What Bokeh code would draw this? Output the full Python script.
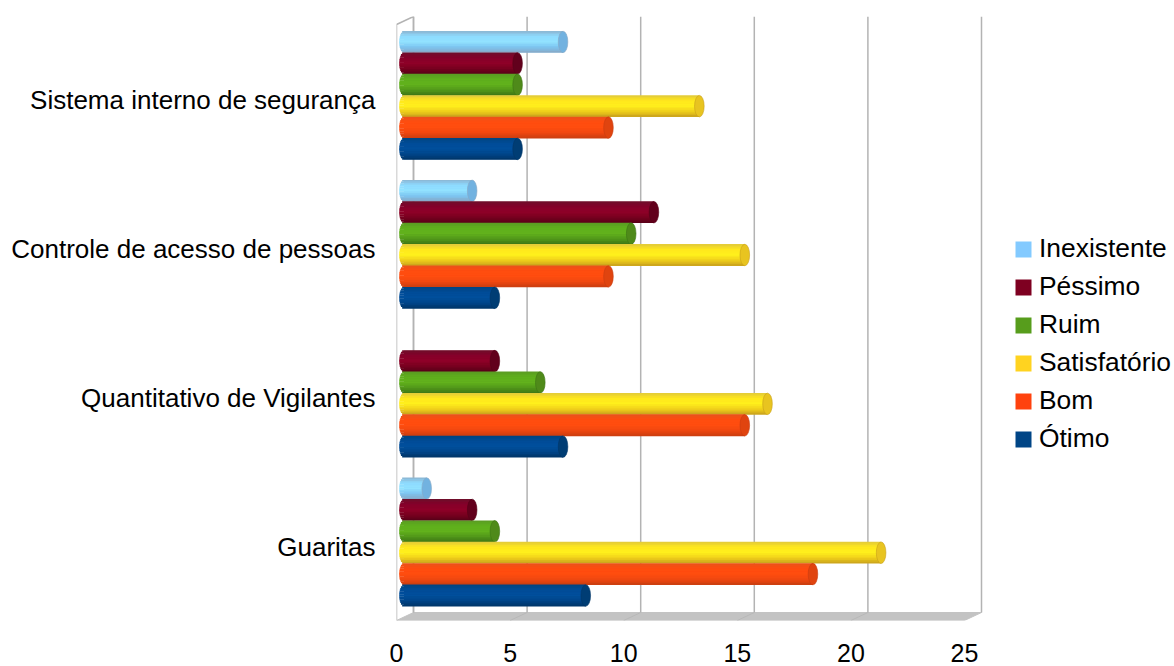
import math
from bokeh.embed import file_html
from bokeh.resources import INLINE
from bokeh.plotting import figure
from bokeh.models import ColumnDataSource, Range1d, FixedTicker, Legend, LegendItem

categories = ["Guaritas", "Quantitativo de Vigilantes", "Controle de acesso de pessoas", "Sistema interno de segurança"]
series_names = ["Ótimo", "Bom", "Satisfatório", "Ruim", "Péssimo", "Inexistente"]
otimo = [8, 7, 4, 5]
bom = [18, 15, 9, 9]
satisfatorio = [21, 16, 15, 13]
ruim = [4, 6, 10, 5]
pessimo = [3, 4, 11, 5]
inexistente = [1, 0, 3, 7]
x_ticks = [0, 5, 10, 15, 20, 25]

series_values = [otimo, bom, satisfatorio, ruim, pessimo, inexistente]
legend_colors = ["#004586", "#ff420e", "#ffd320", "#579d1c", "#7e0021", "#83caff"]
cap_colors = ["#003d74", "#e0440f", "#e8c420", "#4f8a1a", "#62001c", "#72b2e0"]
shades = [
    ["#00447f", "#004c98", "#004f9c", "#00458a", "#003566"],
    ["#e8521c", "#ff4d0f", "#ff4d0f", "#f04810", "#c83d10"],
    ["#e0c83c", "#ffe81c", "#fff01c", "#f0d01a", "#c8a01c"],
    ["#5a9a24", "#5fb01c", "#62b21c", "#52981a", "#3d7414"],
    ["#6c0e2a", "#85002a", "#8f0028", "#78001f", "#560018"],
    ["#8cb4d0", "#8edcff", "#92e2ff", "#7cc4f0", "#88a8c4"],
]

FONT = "Liberation Sans"
PX_PER_UNIT = 22.72
PX_PER_CAT = 148.85
FRAME_L, FRAME_R, FRAME_T, FRAME_B = 396, 1174, 16, 620
W, H = 1174, 666
Y_START = -(FRAME_B - 546.5) / PX_PER_CAT

p = figure(width=W, height=H, output_backend="svg", toolbar_location=None,
           x_range=Range1d(0, (FRAME_R - FRAME_L) / PX_PER_UNIT),
           y_range=Range1d(Y_START, Y_START + (FRAME_B - FRAME_T) / PX_PER_CAT),
           min_border_left=FRAME_L, min_border_right=W - FRAME_R,
           min_border_top=FRAME_T, min_border_bottom=H - FRAME_B)
p.outline_line_color = None
p.grid.visible = False

ax = p.xaxis[0]
ax.ticker = FixedTicker(ticks=x_ticks)
ax.axis_line_color = None
ax.major_tick_line_color = None
ax.minor_tick_line_color = None
ax.major_label_standoff = 17
ax.major_label_text_font = FONT
ax.major_label_text_font_size = "25px"
ax.major_label_text_color = "#000000"

ay = p.yaxis[0]
ay.ticker = FixedTicker(ticks=list(range(len(categories))))
ay.major_label_overrides = {i: c for i, c in enumerate(categories)}
ay.axis_line_color = None
ay.major_tick_line_color = None
ay.minor_tick_line_color = None
ay.major_label_standoff = 15
ay.major_label_text_font = FONT
ay.major_label_text_font_size = "26px"
ay.major_label_text_color = "#000000"

# 3-D box furniture
dx, dy = 17 / PX_PER_UNIT, 8 / PX_PER_CAT
y1 = p.y_range.end
floor_y = p.y_range.start
left, right = x_ticks[0], x_ticks[-1]
GRID = "#b3b3b3"
p.patch([left, left + dx, right + dx, right], [floor_y, floor_y + dy, floor_y + dy, floor_y],
        fill_color="#c3c3c3", line_color="#c3c3c3", line_width=1)
p.segment([t + dx for t in x_ticks], [floor_y + dy] * 6, [t + dx for t in x_ticks], [y1] * 6,
          line_color=GRID, line_width=1.5)
p.segment([t for t in x_ticks[1:-1]], [floor_y] * 4, [t + dx for t in x_ticks[1:-1]], [floor_y + dy] * 4,
          line_color="#b8b8b8", line_width=1)
p.line([left, left, left + dx, left + dx], [floor_y, y1 - dy, y1, floor_y + dy], line_color=GRID, line_width=1.5)

# bars
BAR_H = 21.5 / PX_PER_CAT
STEP = 21.4 / PX_PER_CAT
START = -48.5 / PX_PER_CAT
BASE = 7.5 / PX_PER_UNIT
RX = 4.8 / PX_PER_UNIT
N = 13


def stop(colors, f):
    f = max(0.0, min(1.0, f)) * (len(colors) - 1)
    i = min(int(f), len(colors) - 2)
    a, b = colors[i], colors[i + 1]
    m = f - i
    ca = [int(a[k:k + 2], 16) for k in (1, 3, 5)]
    cb = [int(b[k:k + 2], 16) for k in (1, 3, 5)]
    return "#%02x%02x%02x" % tuple(round(u + (v - u) * m) for u, v in zip(ca, cb))


legend_items = []
for s in range(len(series_names) - 1, -1, -1):
    vals = series_values[s]
    idx = [i for i, v in enumerate(vals) if v > 0]
    ys = [i + START + STEP * s for i in idx]
    xs = [vals[i] + BASE for i in idx]
    base = p.hbar(y=ys, left=[BASE] * len(idx), right=xs, height=BAR_H * 0.95,
                  fill_color=legend_colors[s], line_color=None)
    legend_items.append(LegendItem(label=series_names[s], renderers=[base]))
    strip = dict(y=[], left=[], right=[], color=[])
    for k in range(N):
        f = (k + 0.5) / N
        t = 2 * f - 1
        for yc, xe in zip(ys, xs):
            strip["y"].append(yc + BAR_H / 2 - f * BAR_H)
            strip["left"].append(BASE - RX * math.sqrt(1 - t * t))
            strip["right"].append(xe)
            strip["color"].append(stop(shades[s], f))
    p.hbar(y="y", left="left", right="right", height=BAR_H / N * 1.2, fill_color="color", line_color=None,
           source=ColumnDataSource(strip))
    p.ellipse(x=xs, y=ys, width=2 * RX, height=BAR_H, fill_color=cap_colors[s],
              line_color=shades[s][4], line_width=0.6)

legend = Legend(items=legend_items, location=(617, 166), orientation="vertical",
                background_fill_alpha=0, border_line_color=None, padding=0, margin=0,
                glyph_width=20, glyph_height=20, label_standoff=6, spacing=7, label_height=30,
                label_text_font=FONT, label_text_font_size="26.4px", label_text_color="#000000")
p.add_layout(legend, "center")

open("out.html", "w").write(file_html(p, INLINE))
